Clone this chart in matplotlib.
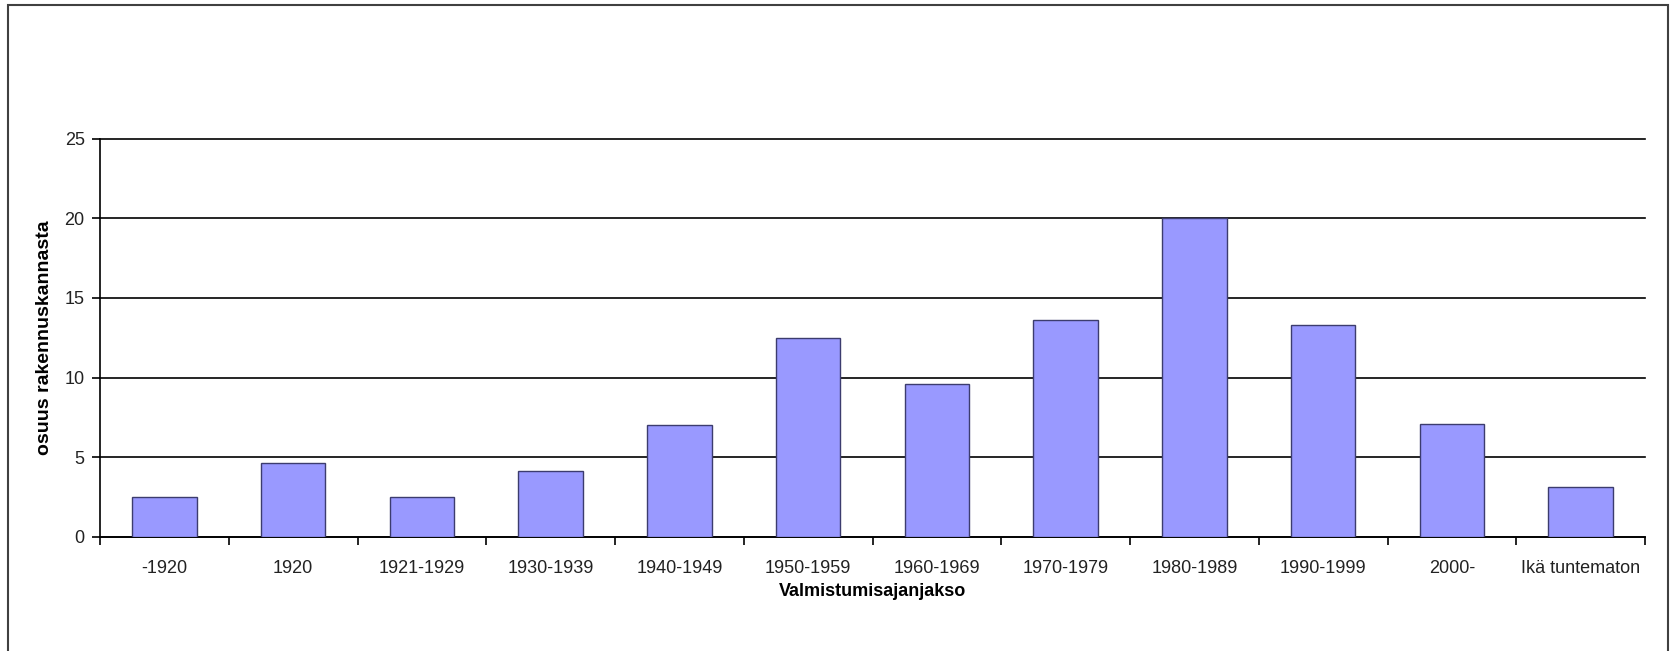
import numpy as np
import matplotlib.pyplot as plt
from matplotlib.patches import Rectangle

plt.rcParams['font.family'] = ['Liberation Sans', 'DejaVu Sans']

periods = ["-1920", "1920", "1921-1929", "1930-1939", "1940-1949", "1950-1959",
           "1960-1969", "1970-1979", "1980-1989", "1990-1999", "2000-", "Ikä tuntematon"]
share = [2.5, 4.6, 2.5, 4.1, 7.0, 12.5, 9.6, 13.6, 20.0, 13.3, 7.1, 3.1]
y_ticks = [0, 5, 10, 15, 20, 25]

fig = plt.figure(figsize=(16.71, 6.51), dpi=100)

# outer chart frame (bottom edge falls off the image)
fig.patches.append(Rectangle((8 / 1671, -0.05), (1668 - 8) / 1671, 1.05 - 5 / 651,
                             transform=fig.transFigure, fill=False,
                             edgecolor="#404040", linewidth=1.5))

ax = fig.add_axes([100 / 1671, 1 - 536.7 / 651, (1645 - 100) / 1671, (536.7 - 138.7) / 651])

x = np.arange(len(periods))
ax.bar(x, share, width=0.5, color="#9999ff", edgecolor="#3c3c6e", linewidth=1, zorder=3)

ax.set_xlim(-0.5, len(periods) - 0.5)
ax.set_ylim(0, 25)
ax.set_yticks(y_ticks)
ax.yaxis.grid(True, color="black", linewidth=1.2, zorder=0)
for gl in ax.get_ygridlines():
    gl.set_clip_on(False)

# ticks sit between categories, labels under the bars
ax.set_xticks(np.arange(len(periods) + 1) - 0.5)
ax.set_xticklabels([])
ax.set_xticks(x, minor=True)
ax.set_xticklabels(periods, minor=True, fontsize=13, color="#222222")
ax.tick_params(axis="x", which="minor", length=0, pad=17)
ax.tick_params(axis="x", which="major", length=6, width=1.2, direction="out")
ax.tick_params(axis="y", length=6, width=1.2, labelsize=13, labelcolor="#222222", pad=5)

for side in ["top", "right"]:
    ax.spines[side].set_visible(False)
ax.spines["left"].set_linewidth(1.2)
ax.spines["bottom"].set_linewidth(1.2)

ax.set_xlabel("Valmistumisajanjakso", fontsize=13, fontweight="bold", labelpad=4)
ax.set_ylabel("osuus rakennuskannasta", fontsize=14, fontweight="bold", labelpad=8)

fig.savefig("out.png", dpi=100)
